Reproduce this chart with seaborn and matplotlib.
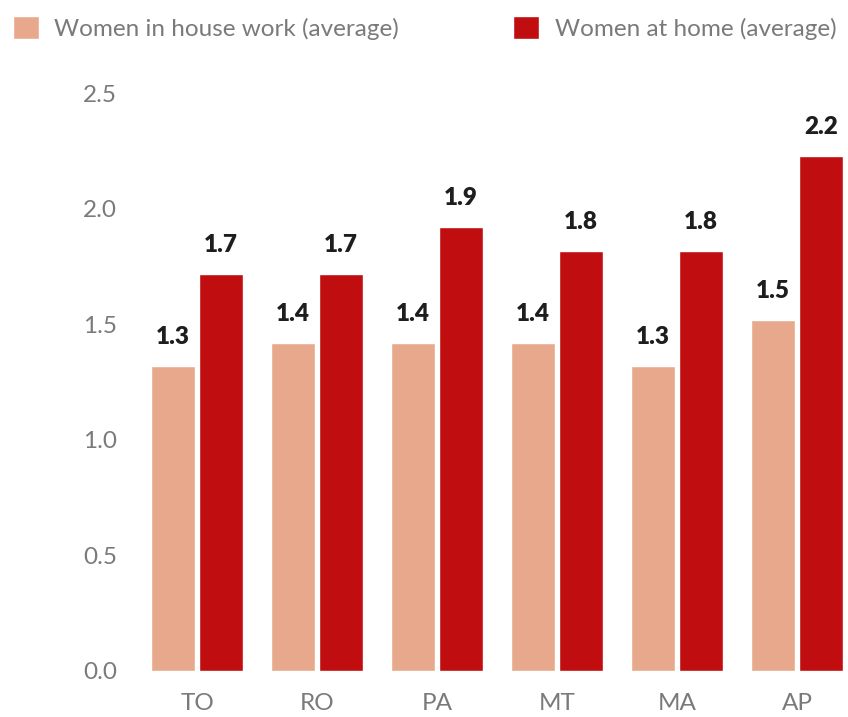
import matplotlib
matplotlib.use("Agg")
import matplotlib.pyplot as plt
import seaborn as sns
import pandas as pd

# Regions (states) shown on the x axis
regions = ["TO", "RO", "PA", "MT", "MA", "AP"]
series_names = ["Women in house work (average)", "Women at home (average)"]
house_work = [1.32, 1.42, 1.42, 1.42, 1.32, 1.52]
at_home = [1.72, 1.72, 1.92, 1.82, 1.82, 2.23]
y_ticks = [0.0, 0.5, 1.0, 1.5, 2.0, 2.5]

colors = ["#E8A88C", "#C00E10"]

df = pd.DataFrame({
    "region": regions * 2,
    "series": [series_names[0]] * len(regions) + [series_names[1]] * len(regions),
    "value": house_work + at_home,
})

sns.set_theme(style="white")
plt.rcParams["font.family"] = ["Lato", "DejaVu Sans"]

fig = plt.figure(figsize=(8.48, 7.17), dpi=100)
ax = fig.add_axes([0.1545, 0.0642, 0.842, 0.8376])

sns.barplot(data=df, x="region", y="value", hue="series", order=regions,
            hue_order=series_names, palette=colors, width=0.8, gap=0.083,
            saturation=1, ax=ax, legend=True)

ax.set_xlim(-0.55, 5.4)
ax.set_ylim(0, 2.6)
ax.set_xlabel("")
ax.set_ylabel("")
sns.despine(ax=ax, left=True, bottom=True)

ax.set_yticks(y_ticks)
ax.set_yticklabels([f"{t:.1f}" for t in y_ticks])
ax.tick_params(axis="y", length=0, pad=10, labelsize=17.5, labelcolor="#7A7A7A")
ax.tick_params(axis="x", length=0, pad=16, labelsize=17.5, labelcolor="#7A7A7A")

for cont in ax.containers:
    ax.bar_label(cont, fmt="%.1f", padding=13, fontsize=17.5, fontweight="heavy",
                 color="#1E1E1E")

sns.move_legend(ax, "upper left", bbox_to_anchor=(0.0, 0.996),
                bbox_transform=fig.transFigure, ncol=2, frameon=False,
                title=None, fontsize=17.5, handlelength=1.05, handleheight=1.05,
                handletextpad=0.64, columnspacing=4.7, borderpad=0.25,
                borderaxespad=0.3)
for t in ax.get_legend().get_texts():
    t.set_color("#7A7A7A")

fig.savefig("out.png", dpi=100, facecolor="white")
